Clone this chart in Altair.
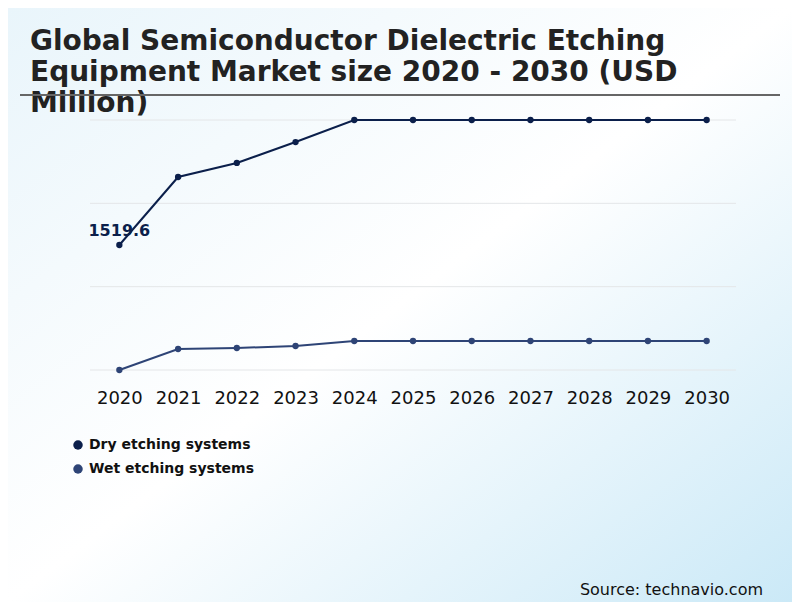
import altair as alt
import pandas as pd

years = ["2020", "2021", "2022", "2023", "2024", "2025", "2026", "2027", "2028", "2029", "2030"]
dry = [1519.6, 1998.0, 2097.0, 2244.0, 2399.2, 2399.2, 2399.2, 2399.2, 2399.2, 2399.2, 2399.2]
wet = [640.0, 788.0, 795.0, 809.0, 844.0, 844.0, 844.0, 844.0, 844.0, 844.0, 844.0]
series_names = ["Dry etching systems", "Wet etching systems"]
series_colors = ["#0b1f4b", "#2e4476"]
title_lines = ["Global Semiconductor Dielectric Etching",
               "Equipment Market size 2020 - 2030 (USD",
               "Million)"]
source_text = "Source: technavio.com"

rows = []
for y, v in zip(years, dry):
    rows.append({"year": y, "value": v, "series": series_names[0]})
for y, v in zip(years, wet):
    rows.append({"year": y, "value": v, "series": series_names[1]})
df = pd.DataFrame(rows)

lo = min(wet)
hi = max(dry)
grid_vals = [lo, lo + (hi - lo) / 3, lo + 2 * (hi - lo) / 3, hi]

W, H = 646, 250
PL, PT = 82, 112
PR = 784 - PL - W
PB = 594 - PT - H

one = pd.DataFrame({"k": [0]})

bg = alt.Chart(one).mark_rect(
    color=alt.Gradient(
        gradient="linear", x1=0, y1=0, x2=1, y2=1,
        stops=[alt.GradientStop(offset=0, color="#e9f5fb"),
               alt.GradientStop(offset=0.5, color="#ffffff"),
               alt.GradientStop(offset=1, color="#cbe9f7")]),
).encode(x=alt.value(-PL), x2=alt.value(W + PR), y=alt.value(-PT), y2=alt.value(H + PB))

yscale = alt.Scale(domain=[lo, hi], nice=False, zero=False)

grid = alt.Chart(pd.DataFrame({"g": grid_vals})).mark_rule(color="#e4e6e8", strokeWidth=1).encode(
    y=alt.Y("g:Q", scale=yscale, axis=None),
    x=alt.value(0), x2=alt.value(W))

xenc = alt.X("year:O", scale=alt.Scale(type="point", padding=0.5, domain=years),
             axis=alt.Axis(title=None, labelAngle=0, domain=False, ticks=False, zindex=1,
                           labelFontSize=18, labelColor="#111111", labelPadding=19,
                           labelFont="DejaVu Sans"))
yenc = alt.Y("value:Q", scale=yscale, axis=None)
cenc = alt.Color("series:N", scale=alt.Scale(domain=series_names, range=series_colors),
                 legend=alt.Legend(title=None, orient="none", legendX=-19, legendY=318,
                                   symbolType="circle", symbolSize=90, labelLimit=400,
                                   labelFontSize=14, labelFontWeight="bold", labelColor="#111111",
                                   labelFont="DejaVu Sans", rowPadding=10, labelOffset=4,
                                   symbolStrokeWidth=0, padding=0))

lines = alt.Chart(df).mark_line(strokeWidth=2, clip=False).encode(x=xenc, y=yenc, color=cenc)
points = alt.Chart(df).mark_circle(size=40, opacity=1, clip=False).encode(
    x=xenc, y=yenc, color=alt.Color("series:N", scale=alt.Scale(domain=series_names, range=series_colors), legend=None))

label_df = df[(df["year"] == years[0]) & (df["series"] == series_names[0])]
label = alt.Chart(label_df).mark_text(
    fontSize=16, fontWeight="bold", color=series_colors[0], dy=-14, font="DejaVu Sans",
).encode(x=xenc, y=yenc, text=alt.Text("value:Q", format=".1f"))

title = alt.Chart(one).mark_text(
    text=title_lines, align="left", baseline="alphabetic", fontSize=28, fontWeight="bold",
    font="DejaVu Sans", color="#222222", lineHeight=31,
).encode(x=alt.value(30 - 90), y=alt.value(50 - 120))

rule = alt.Chart(one).mark_rule(color="#666666", strokeWidth=2).encode(
    x=alt.value(20 - 90), x2=alt.value(780 - 90), y=alt.value(95 - 120))

source = alt.Chart(pd.DataFrame({"t": [source_text]})).mark_text(
    align="right", baseline="alphabetic", fontSize=16, color="#111111", font="DejaVu Sans",
).encode(x=alt.value(763 - 90), y=alt.value(595 - 120), text="t:N")

chart = alt.layer(bg, grid, lines, points, label, title, rule, source).properties(
    width=W, height=H,
    padding={"left": PL, "top": PT, "right": PR, "bottom": PB},
    autosize=alt.AutoSizeParams(type="none"),
).configure_view(stroke=None).configure(background="#f4fafd")

chart.save("out.html", embed_options={"renderer": "svg", "actions": False})
